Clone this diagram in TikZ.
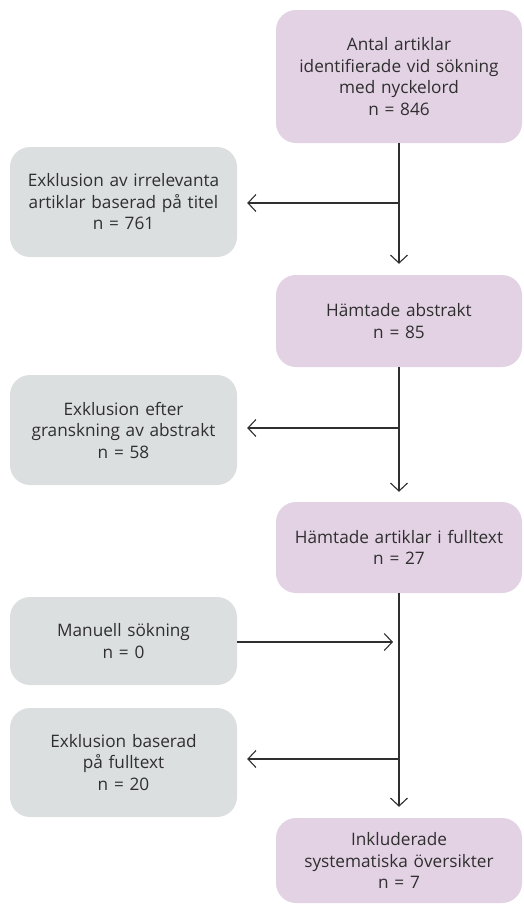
\documentclass[tikz,border=0pt]{standalone}
\usepackage{fontspec}
\setmainfont{Open Sans}[Ligatures={NoCommon}, WordSpace=0.8]
\usepackage{tikz}
\usetikzlibrary{arrows.meta}
\definecolor{flow_purple}{HTML}{E3D1E4}
\definecolor{flow_gray}{HTML}{DCDFE0}
\definecolor{flow_ink}{HTML}{2F2F2F}

\begin{document}
\begin{tikzpicture}[
    x=1pt, y=-1pt,
    mainbox/.style={fill=flow_purple, rounded corners=20pt, minimum width=246pt,
        text width=240pt, align=center, inner sep=0pt, text=flow_ink,
        font=\fontsize{17.2}{21.5}\selectfont},
    sidebox/.style={mainbox, fill=flow_gray, minimum width=227pt, text width=222pt},
    flowline/.style={draw=flow_ink, line width=1.1pt},
    flowarrow/.style={flowline, -{Straight Barb[length=8pt, width=17pt]}}
]

\useasboundingbox (0,0) rectangle (523,905);

% ---- Main chain (right column) ----
\node[mainbox, minimum height=133pt] (vAntal) at (399,76.5)
    {Antal artiklar\\identifierade vid sökning\\med nyckelord\\n = 846};
\node[mainbox, minimum height=92pt]  (vAbstr) at (399,321)
    {Hämtade abstrakt\\n = 85};
\node[mainbox, minimum height=91pt]  (vFull)  at (399,547.5)
    {Hämtade artiklar i fulltext\\n = 27};
\node[mainbox, minimum height=85pt]  (vIncl)  at (399,860.5)
    {Inkluderade\\systematiska översikter\\n = 7};

% ---- Side boxes (left column) ----
\node[sidebox, minimum height=110pt] (vExTitel) at (123.5,202)
    {Exklusion av irrelevanta\\artiklar baserad på titel\\n = 761};
\node[sidebox, minimum height=110pt] (vExAbstr) at (123.5,430)
    {Exklusion efter\\granskning av abstrakt\\n = 58};
\node[sidebox, minimum height=88pt]  (vManuell) at (123.5,641)
    {Manuell sökning\\n = 0};
\node[sidebox, minimum height=109pt] (vExFull)  at (123.5,762.5)
    {Exklusion baserad\\på fulltext\\n = 20};

% ---- Branch points on the vertical lines ----
\coordinate (bTitel) at (399,203);
\coordinate (bAbstr) at (399,428);
\coordinate (bManu)  at (399,642);
\coordinate (bFull)  at (399,759);

% ---- Vertical connectors ----
\draw[flowarrow, shorten >=11pt] (vAntal.south) -- (vAbstr.north);
\draw[flowarrow, shorten >=10pt] (vAbstr.south) -- (vFull.north);
\draw[flowarrow, shorten >=11pt] (vFull.south)  -- (vIncl.north);

% ---- Horizontal connectors ----
\draw[flowarrow, shorten >=10pt] (bTitel) -- (vExTitel.east |- bTitel);
\draw[flowarrow, shorten >=10pt] (bAbstr) -- (vExAbstr.east |- bAbstr);
\draw[flowarrow, shorten >=6pt]  (vManuell.east |- bManu) -- (bManu);
\draw[flowarrow, shorten >=10pt] (bFull)  -- (vExFull.east |- bFull);

\end{tikzpicture}
\end{document}
